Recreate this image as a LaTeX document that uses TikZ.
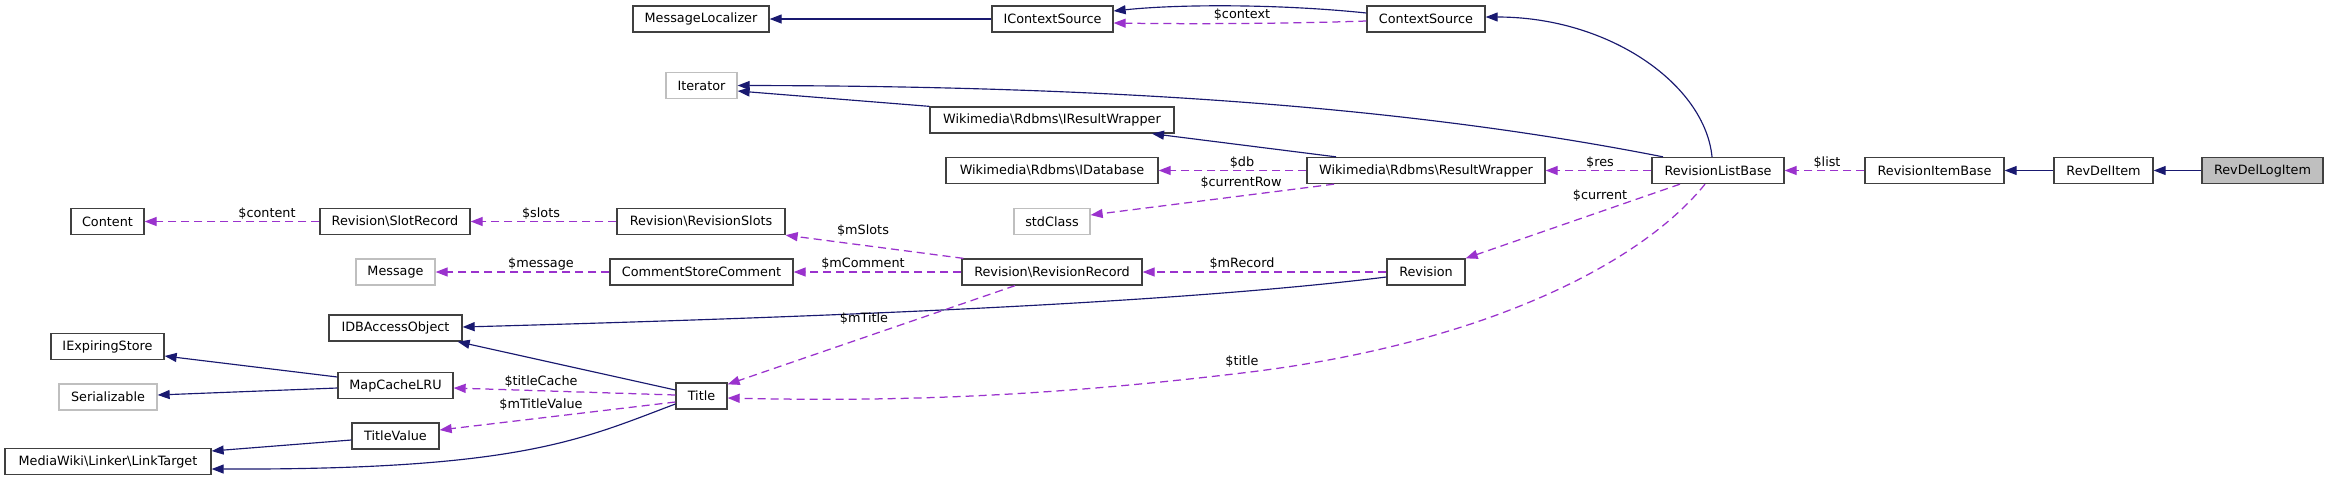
\documentclass[tikz,border=0pt]{standalone}
\usepackage{fontspec}
\newfontfamily\dejafont{DejaVu Sans}
\usetikzlibrary{arrows.meta}
\definecolor{navyc}{HTML}{191970}
\definecolor{purpc}{HTML}{9A32CD}
\definecolor{boxc}{HTML}{404040}
\definecolor{extc}{HTML}{BFBFBF}
\definecolor{hlc}{HTML}{BFBFBF}
\newcommand\dvf{\dejafont\fontsize{12.8}{15}\selectfont}
\tikzset{
  cls/.style={draw=boxc, line width=1.3pt, fill=white, minimum height=26pt, inner sep=0pt, font=\dvf, text=black},
  ext/.style={cls, draw=extc},
  inh/.style={draw=navyc, line width=1.15pt, -{Triangle[length=12pt,width=9pt]}},
  use/.style={draw=purpc, line width=1.25pt, dash pattern=on 8pt off 5pt, -{Triangle[length=12pt,width=9pt]}},
  lbl/.style={font=\dvf, inner sep=0pt, text=black}
}
\begin{document}
\begin{tikzpicture}[x=1pt,y=-1pt]
\fill[white] (0,0) rectangle (2328,480);
\useasboundingbox (0,0) rectangle (2328,480);

% nodes
\node[cls, minimum width=136pt] (ml) at (701,19) {MessageLocalizer};
\node[cls, minimum width=121pt] (ics) at (1052.5,19) {IContextSource};
\node[cls, minimum width=118pt] (cs) at (1426,19) {ContextSource};
\node[ext, minimum width=71pt] (it) at (701.5,85.5) {Iterator};
\node[cls, minimum width=244pt] (irw) at (1052,120) {Wikimedia\textbackslash Rdbms\textbackslash IResultWrapper};
\node[cls, minimum width=212pt] (idb) at (1052,170.5) {Wikimedia\textbackslash Rdbms\textbackslash IDatabase};
\node[cls, minimum width=238pt] (rw) at (1426,170.5) {Wikimedia\textbackslash Rdbms\textbackslash ResultWrapper};
\node[cls, minimum width=132pt] (rlb) at (1718,170.5) {RevisionListBase};
\node[cls, minimum width=139pt] (rib) at (1934.5,170.5) {RevisionItemBase};
\node[cls, minimum width=99pt] (rdi) at (2103.5,170.5) {RevDelItem};
\node[cls, fill=hlc, minimum width=121pt] (rdli) at (2262.5,170.5) {RevDelLogItem};
\node[cls, minimum width=73pt] (content) at (107.5,221.5) {Content};
\node[cls, minimum width=150pt] (sr) at (395,221.5) {Revision\textbackslash SlotRecord};
\node[cls, minimum width=168pt] (rs) at (701,221.5) {Revision\textbackslash RevisionSlots};
\node[ext, minimum width=76pt] (std) at (1052,221.5) {stdClass};
\node[ext, minimum width=79pt] (msg) at (395.5,272) {Message};
\node[cls, minimum width=183pt] (csc) at (701.5,272) {CommentStoreComment};
\node[cls, minimum width=180pt] (rr) at (1052,272) {Revision\textbackslash RevisionRecord};
\node[cls, minimum width=78pt] (rev) at (1426,272) {Revision};
\node[cls, minimum width=133pt] (idbao) at (395.5,328) {IDBAccessObject};
\node[cls, minimum width=113pt] (ies) at (107.5,346.5) {IExpiringStore};
\node[cls, minimum width=115pt] (mc) at (395.5,385.5) {MapCacheLRU};
\node[ext, minimum width=98pt] (ser) at (108,397) {Serializable};
\node[cls, minimum width=51pt] (title) at (701.5,396) {Title};
\node[cls, minimum width=87pt] (tv) at (395.5,436) {TitleValue};
\node[cls, minimum width=206pt] (lt) at (108,461.5) {MediaWiki\textbackslash Linker\textbackslash LinkTarget};

\coordinate (tmid) at (1242,373);

% inheritance
\draw[inh] (rdli.west) -- (rdi.east);
\draw[inh] (rdi.west) -- (rib.east);
\draw[inh] (ics.west) -- (ml.east);
\draw[inh] ([yshift=6pt]cs.west) .. controls (1280,4) and (1180,4) .. ([yshift=8pt]ics.east);
\draw[inh] ([xshift=-6pt]rlb.north) .. controls (1705,85) and (1610,17) .. ([yshift=2pt]cs.east);
\draw[inh] ([xshift=-55pt]rlb.north) .. controls (1400,105) and (1100,86) .. (it.east);
\draw[inh] (irw.north west) -- ([yshift=-5.5pt]it.east);
\draw[inh] ([xshift=-90pt]rw.north) -- ([xshift=100pt]irw.south);
\draw[inh] ([yshift=-5pt]rev.west) .. controls (1200,300) and (900,315) .. ([yshift=1pt]idbao.east);
\draw[inh] ([yshift=6pt]title.west) -- ([xshift=-5pt]idbao.south east);
\draw[inh] ([yshift=8.5pt]mc.west) -- ([yshift=-9.5pt]ies.east);
\draw[inh] ([yshift=-2.5pt]mc.west) -- ([yshift=2pt]ser.east);
\draw[inh] ([yshift=-4pt]tv.west) -- ([yshift=10.5pt]lt.east);
\draw[inh] ([yshift=-8pt]title.west) .. controls (580,440) and (520,470) .. ([yshift=-7.5pt]lt.east);

% usage
\draw[use] ([yshift=-2pt]cs.west) .. controls (1280,24) and (1180,24) .. ([yshift=-4pt]ics.east);
\draw[use] (rw.west) -- (idb.east);
\draw[use] ([xshift=-92pt]rw.south) -- ([yshift=6.5pt]std.east);
\draw[use] (rlb.west) -- (rw.east);
\draw[use] (rib.west) -- (rlb.east);
\draw[use] ([xshift=-38pt]rlb.south) -- (rev.north east);
\draw[use] ([xshift=-13pt]rlb.south) .. controls (1640,265) and (1480,345) .. (tmid) .. controls (1050,396) and (900,402) .. ([yshift=-2pt]title.east);
\draw[use] (rev.west) -- (rr.east);
\draw[use] (rr.west) -- (csc.east);
\draw[use] ([xshift=2pt]rr.north west) -- (rs.south east);
\draw[use] ([xshift=-37pt]rr.south) -- ([yshift=-2pt]title.north east);
\draw[use] (rs.west) -- (sr.east);
\draw[use] (sr.west) -- (content.east);
\draw[use] (csc.west) -- (msg.east);
\draw[use] ([yshift=1pt]title.west) -- ([yshift=-2.5pt]mc.east);
\draw[use] ([yshift=-6pt]title.west) -- ([yshift=6pt]tv.east);

% labels
\node[lbl] (l1) at (1242,15) {\$context};
\node[lbl] (l2) at (1242,163) {\$db};
\node[lbl] (l3) at (1241,183) {\$currentRow};
\node[lbl] (l4) at (1600,163) {\$res};
\node[lbl] (l5) at (1827,163) {\$list};
\node[lbl] (l6) at (1600,196) {\$current};
\node[lbl] (l7) at (1242,362) {\$title};
\node[lbl] (l8) at (1242,264) {\$mRecord};
\node[lbl] (l9) at (863,264) {\$mComment};
\node[lbl] (l10) at (863,231) {\$mSlots};
\node[lbl] (l11) at (864,319) {\$mTitle};
\node[lbl] (l12) at (541,214) {\$slots};
\node[lbl] (l13) at (267,214) {\$content};
\node[lbl] (l14) at (541,264) {\$message};
\node[lbl] (l15) at (541,382) {\$titleCache};
\node[lbl] (l16) at (541,405) {\$mTitleValue};
\end{tikzpicture}
\end{document}
